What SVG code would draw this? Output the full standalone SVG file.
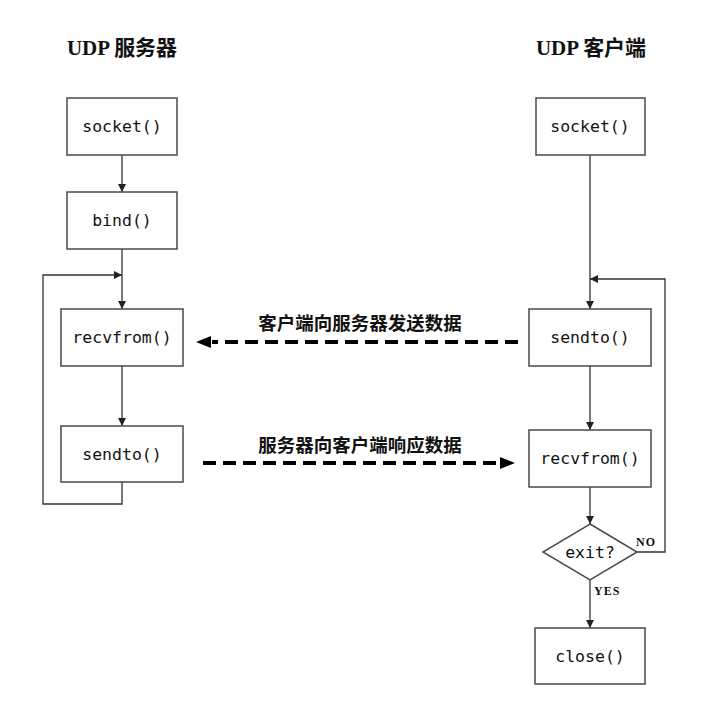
<svg xmlns="http://www.w3.org/2000/svg" width="712" height="719" viewBox="0 0 712 719">
<style>
.box{fill:#fff;stroke:#4a4a4a;stroke-width:1.5}
.fn{font-family:"DejaVu Sans Mono","Liberation Mono",monospace;font-size:16.5px;fill:#111;text-anchor:middle}
.title{font-family:"Liberation Serif","Noto Sans CJK SC",serif;font-weight:bold;font-size:21px;fill:#111;text-anchor:middle}
.lbl{font-family:"Noto Sans CJK SC",sans-serif;font-weight:bold;font-size:18.5px;fill:#111;text-anchor:middle}
.yn{font-family:"Liberation Serif",serif;font-weight:bold;font-size:12px;letter-spacing:1px;fill:#111}
.ln{fill:none;stroke:#333;stroke-width:1.3}
.dash{fill:none;stroke:#000;stroke-width:4;stroke-dasharray:13 7}
</style>
<defs>
<marker id="ah" viewBox="0 0 10 10" refX="10" refY="5" markerWidth="8" markerHeight="8" markerUnits="userSpaceOnUse" orient="auto">
<path d="M0,0 L10,5 L0,10 z" fill="#222"/>
</marker>
</defs>
<rect width="712" height="719" fill="#fff"/>
<text class="title" x="122" y="55">UDP 服务器</text>
<text class="title" x="591" y="55">UDP 客户端</text>

<g id="connectors">
<line class="ln" x1="122" y1="155" x2="122" y2="192" marker-end="url(#ah)"/>
<line class="ln" x1="122" y1="249" x2="122" y2="309" marker-end="url(#ah)"/>
<line class="ln" x1="122" y1="366" x2="122" y2="426" marker-end="url(#ah)"/>
<polyline class="ln" points="122,482 122,504 43,504 43,275 122,275" marker-end="url(#ah)"/>
<line class="ln" x1="590" y1="155" x2="590" y2="309" marker-end="url(#ah)"/>
<line class="ln" x1="590" y1="366" x2="590" y2="430" marker-end="url(#ah)"/>
<line class="ln" x1="590" y1="487" x2="590" y2="524" marker-end="url(#ah)"/>
<line class="ln" x1="590" y1="580" x2="590" y2="628" marker-end="url(#ah)"/>
<polyline class="ln" points="637,552 665,552 665,279 590,279" marker-end="url(#ah)"/>
<line class="dash" x1="518" y1="342" x2="212" y2="342"/>
<path d="M196,342 L211,336 L211,348 z" fill="#000"/>
<line class="dash" x1="203" y1="463" x2="500" y2="463"/>
<path d="M515,463 L500,457 L500,469 z" fill="#000"/>
<text class="lbl" x="360" y="330">客户端向服务器发送数据</text>
<text class="lbl" x="360" y="452">服务器向客户端响应数据</text>
<text class="yn" x="636" y="546">NO</text>
<text class="yn" x="594" y="595">YES</text>
</g>

<g id="s_socket"><rect class="box" x="67" y="98" width="110" height="57"/><text class="fn" x="122" y="132">socket()</text></g>
<g id="s_bind"><rect class="box" x="67" y="192" width="110" height="57"/><text class="fn" x="122" y="226">bind()</text></g>
<g id="s_recvfrom"><rect class="box" x="61" y="309" width="122" height="57"/><text class="fn" x="122" y="343">recvfrom()</text></g>
<g id="s_sendto"><rect class="box" x="61" y="426" width="122" height="56"/><text class="fn" x="122" y="460">sendto()</text></g>

<g id="c_socket"><rect class="box" x="536" y="98" width="109" height="57"/><text class="fn" x="590" y="132">socket()</text></g>
<g id="c_sendto"><rect class="box" x="529" y="309" width="122" height="57"/><text class="fn" x="590" y="343">sendto()</text></g>
<g id="c_recvfrom"><rect class="box" x="529" y="430" width="122" height="57"/><text class="fn" x="590" y="464">recvfrom()</text></g>
<g id="c_exit"><polygon class="box" points="590,524 637,552 590,580 543,552"/><text class="fn" x="590" y="558">exit?</text></g>
<g id="c_close"><rect class="box" x="535" y="628" width="110" height="56"/><text class="fn" x="590" y="662">close()</text></g>
</svg>
